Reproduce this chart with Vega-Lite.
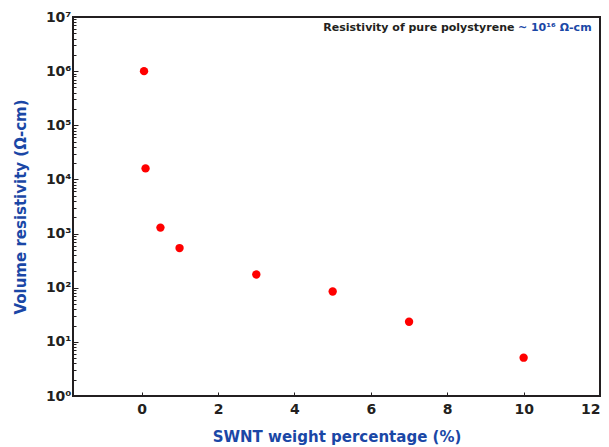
{
  "$schema": "https://vega.github.io/schema/vega-lite/v6.json",
  "width": 527,
  "height": 379,
  "autosize": {"type": "none"},
  "padding": {"left": 73, "top": 17, "right": 9, "bottom": 51},
  "background": "white",
  "config": {
    "view": {"stroke": "#231f20", "strokeWidth": 2},
    "font": "DejaVu Sans"
  },
  "datasets": {
    "pts": [
      {"swnt": 0.06, "rho": 1000000},
      {"swnt": 0.1, "rho": 16000},
      {"swnt": 0.49, "rho": 1290},
      {"swnt": 0.99, "rho": 540},
      {"swnt": 3, "rho": 175},
      {"swnt": 5, "rho": 85},
      {"swnt": 7, "rho": 23.5},
      {"swnt": 10, "rho": 5.1}
    ],
    "notes": [
      {"swnt": 9.76, "rho": 6300000, "label": "Resistivity of pure polystyrene", "part": "a"},
      {"swnt": 11.78, "rho": 6300000, "label": "~ 10¹⁶ Ω-cm", "part": "b"}
    ]
  },
  "layer": [
    {
      "data": {"name": "pts"},
      "mark": {"type": "circle", "size": 70, "color": "#ff0000", "opacity": 1},
      "encoding": {
        "x": {
          "field": "swnt", "type": "quantitative",
          "scale": {"domain": [-1.8, 12], "nice": false, "zero": false},
          "axis": {
            "values": [0, 2, 4, 6, 8, 10, 12],
            "grid": false, "domain": false,
            "tickSize": -4, "tickColor": "#231f20", "tickWidth": 1,
            "labelPadding": 10,
            "labelFontSize": 14, "labelFontWeight": "bold", "labelColor": "#231f20",
            "title": "SWNT weight percentage (%)",
            "titleFontSize": 15, "titleFontWeight": "bold", "titleColor": "#1a47a6",
            "titlePadding": 13
          }
        },
        "y": {
          "field": "rho", "type": "quantitative",
          "scale": {"type": "log", "domain": [1, 10000000], "nice": false},
          "axis": {
            "values": [1,2,3,4,5,6,7,8,9,10,20,30,40,50,60,70,80,90,100,200,300,400,500,600,700,800,900,1000,2000,3000,4000,5000,6000,7000,8000,9000,10000,20000,30000,40000,50000,60000,70000,80000,90000,100000,200000,300000,400000,500000,600000,700000,800000,900000,1000000,2000000,3000000,4000000,5000000,6000000,7000000,8000000,9000000,10000000],
            "grid": false, "domain": false,
            "tickColor": "#231f20", "tickWidth": 1,
            "tickSize": {"condition": {"test": "abs(log(datum.value)/LN10 - round(log(datum.value)/LN10)) < 0.001", "value": -5}, "value": -3},
            "labelPadding": 7,
            "labelExpr": "abs(log(datum.value)/LN10 - round(log(datum.value)/LN10)) < 0.001 ? '10' + ['⁰','¹','²','³','⁴','⁵','⁶','⁷'][round(log(datum.value)/LN10)] : ''",
            "labelFontSize": 14, "labelFontWeight": "bold", "labelColor": "#231f20",
            "labelBound": false, "labelOverlap": false,
            "title": "Volume resistivity (Ω-cm)",
            "titleFontSize": 15, "titleFontWeight": "bold", "titleColor": "#1a47a6",
            "titlePadding": 17
          }
        }
      }
    },
    {
      "data": {"name": "notes"},
      "mark": {"type": "text", "align": "right", "baseline": "middle", "fontSize": 11, "fontWeight": "bold"},
      "encoding": {
        "x": {"field": "swnt", "type": "quantitative"},
        "y": {"field": "rho", "type": "quantitative"},
        "text": {"field": "label"},
        "color": {"field": "part", "type": "nominal", "scale": {"domain": ["a", "b"], "range": ["#231f20", "#1a47a6"]}, "legend": null}
      }
    }
  ]
}
